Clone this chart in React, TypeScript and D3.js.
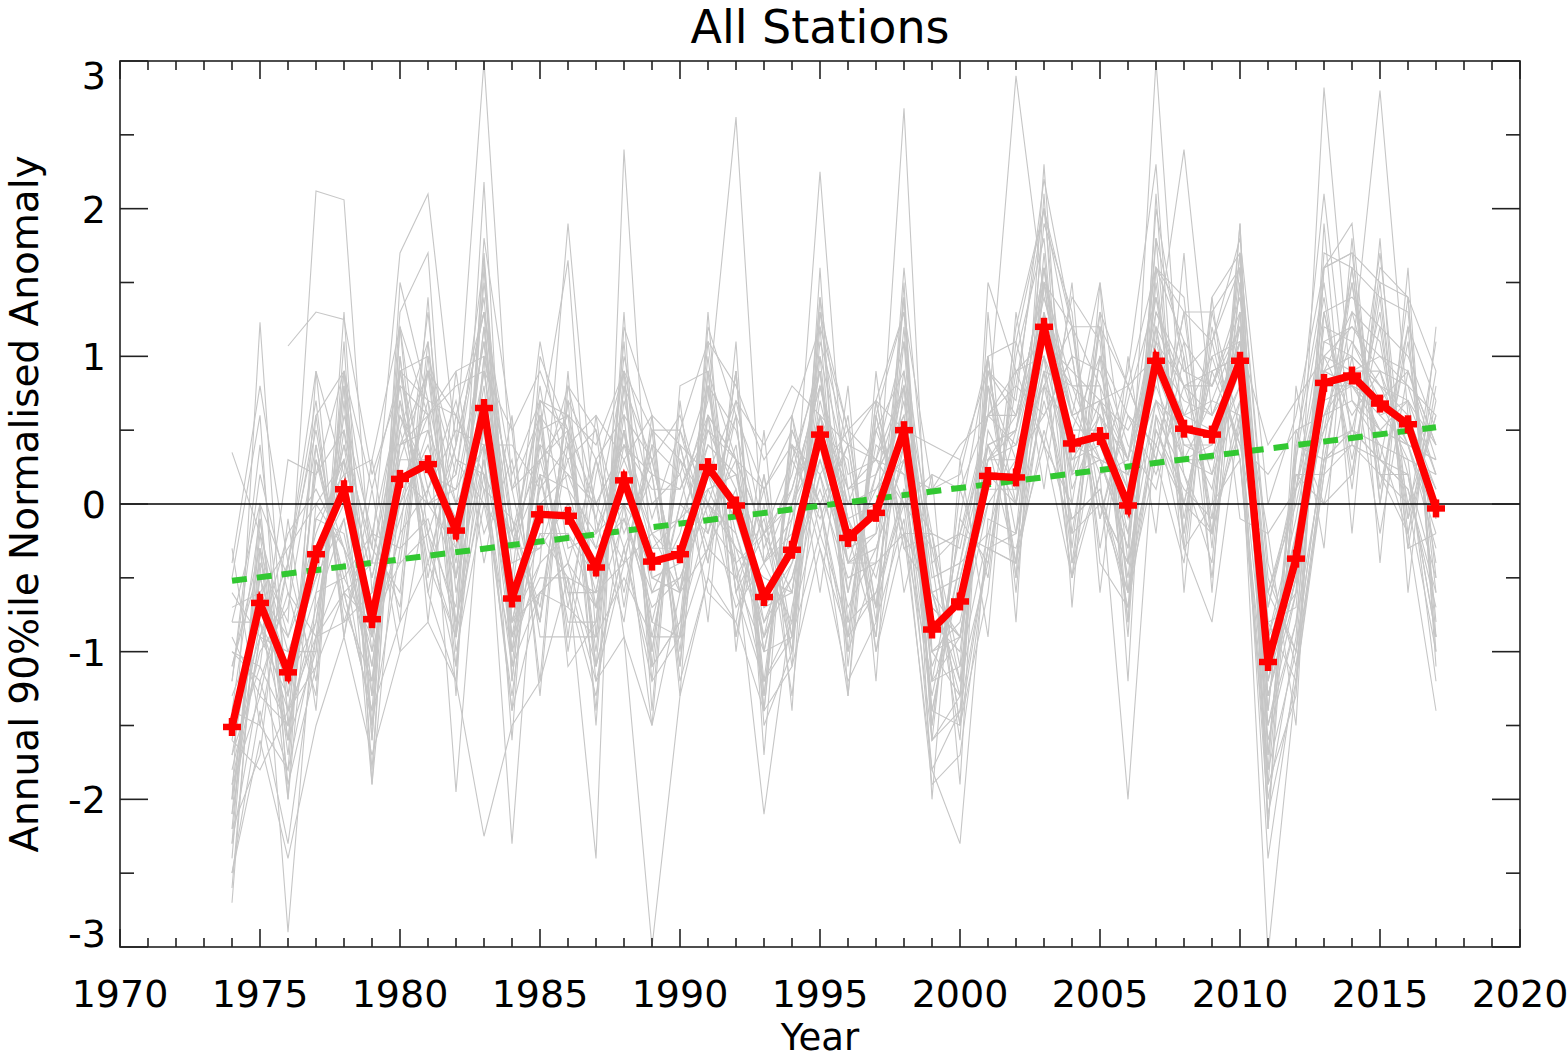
import React from "react";
import * as d3 from "d3";

const years: number[] = [
  1974, 1975, 1976, 1977, 1978, 1979, 1980, 1981, 1982, 1983, 1984, 1985, 1986, 1987, 1988, 1989,
  1990, 1991, 1992, 1993, 1994, 1995, 1996, 1997, 1998, 1999, 2000, 2001, 2002, 2003, 2004, 2005,
  2006, 2007, 2008, 2009, 2010, 2011, 2012, 2013, 2014, 2015, 2016, 2017,
];

// Mean of all stations (red line)
const allStationsMean: number[] = [
  -1.51, -0.67, -1.14, -0.34, 0.1, -0.78,
  0.17, 0.27, -0.18, 0.65, -0.64, -0.07, -0.08, -0.43, 0.16, -0.39,
  -0.34, 0.25, -0.01, -0.63, -0.31, 0.47, -0.23, -0.06, 0.5, -0.85,
  -0.66, 0.19, 0.18, 1.2, 0.41, 0.46, -0.01, 0.97, 0.51, 0.47,
  0.97, -1.07, -0.37, 0.82, 0.87, 0.68, 0.54, -0.03,
];

// Linear trend (green dashed line)
const trendYears: number[] = [1974, 2017];
const trendValues: number[] = [-0.52, 0.52];

// Individual stations (grey lines), 1974..2017
const stationSeries: (number | null)[][] = [
  [-1.0, -1.2, -0.6, -0.9, 0.8, -1.3, 0.7, -0.4, 0.4, 1.3, -1.1, 0.5, -0.7, 0.3, -0.3, 0.2, -0.9, 0.8, -0.5, -0.1, -0.9, 1.0, -0.8, 0.5, 0.0, -0.3, -1.2, 0.8, -0.4, 1.7, -0.2, 1.0, -0.6, 1.5, -0.1, 1.0, 0.4, -0.6, -1.0, 1.3, 0.3, 1.2, -0.1, 0.6],
  [-2.1, -0.2, -1.7, 0.3, -0.5, -0.2, -0.3, 0.9, -0.8, 0.1, -0.1, -0.7, 0.5, -1.0, 0.8, -1.0, 0.3, -0.3, 0.6, -1.2, 0.3, -0.1, 0.4, -0.7, 1.1, -1.5, -0.1, -0.4, 0.8, 0.6, 1.0, -0.1, 0.6, 0.4, 1.1, -0.1, 1.6, -1.7, 0.2, 0.2, 1.5, 0.1, 1.1, -0.6],
  [-0.9, -1.3, -0.4, 0.5, -0.6, -1.4, 1.0, -0.5, 0.6, 0.2, -1.4, 0.7, 0.5, -1.1, 0.9, -1.2, 0.4, -0.4, 0.9, -1.3, 0.5, 0.0, -1.0, 0.7, -0.3, -0.2, -1.5, 1.0, -0.5, 0.8, 1.2, -0.3, 0.8, 0.3, 1.3, -0.2, 1.7, -0.4, -1.1, 0.2, 1.6, 0.0, 1.2, -0.8],
  [-2.4, -0.1, -1.6, -1.0, 0.9, -0.3, -0.6, 1.1, -0.9, 1.0, 0.1, -0.8, 0.7, 0.3, -0.6, 0.4, -1.0, 0.9, -0.6, 0.1, -1.0, 1.3, 0.5, -0.7, 1.2, -1.6, 0.1, -0.5, 1.0, 1.8, -0.3, 1.2, -0.8, 1.6, -0.2, 1.1, 0.3, -1.9, 0.3, 1.4, 0.2, 1.4, -0.2, 0.7],
  [-1.8, -1.0, -0.7, 0.4, -0.7, -1.2, 0.5, -0.2, -0.7, 1.5, -0.2, 0.6, -0.9, -0.9, 0.7, -0.1, 0.5, -0.2, 0.7, -0.2, 0.3, 0.9, -0.9, 0.6, -0.2, -0.6, -1.3, 0.8, 0.3, 0.6, 1.0, -0.1, 0.7, 1.4, 0.2, -0.4, 1.5, -1.4, 0.4, 0.3, 1.3, 1.1, 0.0, 0.6],
  [-2.6, -0.4, -2.9, -0.6, 0.3, -1.9, 0.1, 0.6, -1.95, 0.4, -2.3, 0.2, -0.6, -1.3, 0.0, -1.5, -0.6, 0.2, -0.4, -2.1, -0.7, 0.2, -0.7, -0.3, 0.3, -1.8, -2.3, -0.1, -0.2, 0.9, -0.5, 0.2, -2.0, 0.6, -0.3, -0.8, 0.6, -3.05, -1.2, 0.3, 0.5, 0.4, -0.2, -1.4],
  [-1.2, 0.4, -1.3, 0.2, 0.5, -0.4, -0.4, 0.9, 0.2, 1.65, -1.0, -0.4, 1.9, -0.2, 0.5, -0.8, 0.0, 0.7, 2.62, -0.4, 0.1, 0.8, 0.0, 0.5, 0.9, -0.5, -0.4, 0.6, 2.9, 1.4, 0.6, 0.7, 0.3, 1.2, 0.8, 0.8, 1.2, -0.9, -0.1, 1.0, 1.2, 0.9, 0.8, 0.2],
  [-1.9, -0.8, -1.4, -0.1, -0.2, -1.1, 0.2, 0.0, -0.3, 0.8, -0.9, -0.2, -0.5, -2.4, 2.4, -0.5, -0.6, 0.1, -0.3, -0.9, -0.5, 0.3, -0.4, -0.2, 2.68, -1.0, -0.9, 0.2, 0.0, 1.0, 0.2, 0.3, -0.3, 3.0, 0.3, 0.3, 0.8, -1.3, -0.6, 2.82, 0.7, 0.5, 0.4, -0.2],
  [-1.6, -0.5, -1.1, -0.5, 0.4, -0.9, 0.3, 0.3, -0.1, 0.9, -0.5, 1.1, 0.1, -0.6, 0.4, -0.3, -0.3, 0.4, 0.2, -0.8, -0.3, 2.25, -0.2, -0.1, 0.7, -0.9, -0.6, 0.3, 0.4, 1.3, 0.6, 1.5, 0.1, 1.1, 2.4, 0.6, 1.1, -1.0, -0.4, 0.9, 1.0, 2.8, 0.6, 0.1],
  [null, null, 1.07, 1.3, 1.25, 0.2, 0.8, 0.6, 0.9, 1.0, 0.1, 0.6, 0.3, 0.5, -0.2, 0.3, 0.6, -0.1, 0.3, 0.1, 0.5, 0.0, 0.4, 0.3, 0.2, 0.1, 0.4, 0.6, 0.9, 1.1, 0.8, 0.6, 0.3, 1.0, 0.7, 0.6, 0.9, -0.2, 0.1, 0.9, 0.8, 0.7, 0.9, 0.3],
  [-1.1, -0.4, -0.8, 2.12, 2.06, -0.6, 0.5, 1.1, -0.5, 1.2, -0.8, 0.1, 0.4, -0.7, 0.5, -0.6, -0.2, 0.6, 0.3, -1.0, -0.1, 0.9, -0.4, 0.2, 0.8, -1.2, -0.9, 0.4, 0.5, 1.6, 0.6, 0.3, -0.3, 1.3, 0.8, 0.2, 1.2, -1.5, -0.6, 1.1, 1.0, 0.8, 0.4, -0.3],
  [0.35, -0.2, -0.9, -0.4, 0.4, -0.3, 1.7, 2.1, 0.4, 3.0, 0.1, 0.3, 0.6, -0.1, 0.9, 0.0, 0.2, 0.8, 0.5, -0.3, 0.2, 1.0, 0.2, 0.3, 1.1, -0.4, -0.2, 0.6, 0.8, 2.0, 1.0, 0.9, 0.3, 1.6, 1.1, 0.8, 1.4, -0.6, 0.1, 1.3, 1.4, 1.2, 1.0, 0.5],
  [-2.0, 1.23, -1.5, -0.7, -0.1, -1.3, 1.3, 1.7, -0.9, 2.18, -1.2, 0.5, 1.65, -0.9, 1.1, -1.1, -0.8, 1.0, -0.6, -1.2, -0.9, 1.4, -1.0, -0.4, 1.4, -1.6, -1.3, 0.9, 0.7, 2.2, 1.2, 0.8, -0.8, 2.0, 0.9, 1.1, 1.6, -2.0, -0.9, 1.7, 1.6, 1.4, 1.3, -0.5],
  [-2.3, -1.2, -1.8, -0.9, -0.4, -1.5, -0.3, -0.1, -0.8, 0.3, -1.4, -0.6, -0.4, -1.1, -0.3, -1.1, -0.8, -0.1, -0.4, -1.2, -0.8, 0.0, -0.9, -0.6, 0.0, -1.6, -1.4, -0.3, -0.2, 0.7, -0.1, 0.1, -0.6, 0.5, 0.1, -0.1, 0.5, -1.8, -1.0, 0.4, 0.5, 0.3, 0.1, -0.6],
  [-0.6, -0.9, -0.2, 0.1, -0.3, -0.7, 0.9, 0.1, 0.5, 0.4, 0.4, 0.1, 0.8, 0.0, -0.4, 0.5, 0.3, 0.0, 0.6, 0.1, 0.4, 0.2, 0.5, 0.3, 0.0, 0.2, 0.1, 0.6, 0.4, 0.8, 0.5, 1.0, 0.6, 0.2, 0.8, 0.9, 0.4, 0.2, 0.5, 0.6, 0.9, 0.5, 0.7, 0.4],
  [-1.5, -0.9, -1.3, -0.4, 0.0, -0.9, 0.0, 0.4, -0.3, 0.6, -0.7, -0.2, -0.2, -0.5, 0.1, -0.5, -0.4, 0.2, -0.1, -0.7, -0.4, 0.4, -0.3, -0.2, 0.4, -1.0, -0.8, 0.1, 0.1, 1.1, 0.3, 0.4, -0.1, 0.9, 0.4, 0.4, 0.9, -1.2, -0.5, 0.7, 0.8, 0.6, 0.4, -0.1],
  [-2.5, -1.6, -2.4, -1.5, -0.9, -1.7, -1.0, -0.8, -1.2, -2.25, -1.5, -1.2, -0.5, -1.2, -0.9, -3.0, -1.3, -0.5, -0.8, -1.4, -1.1, -0.3, -1.2, -0.8, -0.1, -1.9, -1.7, -0.3, -0.4, 0.5, -0.2, 0.0, -0.6, 0.6, 0.2, -0.2, 0.7, -2.4, -1.1, 0.3, 0.5, 0.3, 0.2, -0.9],
  [-0.8, 0.0, -0.5, 0.6, 0.9, 0.1, 0.9, 0.7, 0.6, 1.3, 0.2, 0.7, 0.6, 0.4, 0.9, 0.5, 0.5, 1.1, 0.8, 0.3, 0.6, 1.2, 0.5, 0.7, 1.3, 0.1, 0.2, 1.0, 1.1, 2.0, 1.2, 1.2, 0.8, 1.6, 1.3, 1.1, 1.8, 0.0, 0.6, 1.6, 1.7, 1.5, 1.4, 0.9],
  [-1.4, -1.5, -0.4, -1.2, 0.7, -1.6, 1.0, -0.6, 0.3, 0.2, -0.2, -0.8, 0.4, -0.1, -0.8, 0.6, -1.1, 0.6, -0.9, 0.0, -1.3, 0.5, 0.3, -1.0, 0.1, -0.2, -1.1, 1.0, -0.6, 1.3, -0.4, 1.0, 0.4, 0.1, 1.0, -0.5, 1.3, -0.7, 0.2, 0.0, 1.0, -0.2, 0.9, 0.4],
  [-2.2, -0.3, -2.0, 0.0, -0.3, -1.0, -0.2, 1.3, -0.6, 0.5, -1.0, 0.4, -0.6, -0.6, 0.5, -0.9, 0.0, -0.2, 0.4, -1.0, 0.0, 0.9, -0.6, 0.2, 0.6, -1.4, -0.5, 0.3, 0.6, 1.5, 0.1, 0.6, -0.5, 1.2, 0.0, 0.9, 1.0, -1.6, -0.8, 1.0, 0.6, 0.9, 0.2, -0.5],
  [-1.7, -0.6, -0.9, -0.2, 0.3, -0.5, 0.4, 0.5, 0.0, 0.4, -0.3, 0.2, 0.1, -0.2, 0.3, -0.2, -0.1, 0.4, 0.2, -0.4, -0.1, 0.5, 0.0, 0.1, 0.5, -0.6, -0.5, 0.3, 0.3, 1.0, 0.5, 0.5, 0.1, 0.9, 0.6, 0.5, 0.9, -0.9, -0.3, 0.8, 0.8, 0.7, 0.5, 0.1],
  [-1.0, -1.1, -1.5, -0.8, 0.6, -0.2, 0.7, 0.0, 0.1, 1.1, -0.9, 0.3, -0.4, -0.7, 0.6, 0.3, -0.6, 0.6, -0.2, -0.9, 0.0, 0.4, -0.6, 0.4, 0.2, -1.3, -0.4, -0.2, 0.5, 1.4, 0.7, 0.2, 0.3, 1.2, 0.3, 0.7, 0.6, -1.0, -0.2, 0.9, 1.3, 0.6, 0.7, -0.4],
  [-2.1, -0.9, -1.0, -0.5, -0.1, -1.1, 0.4, 0.6, -0.4, 1.2, -0.4, -0.3, 0.0, -0.3, -0.1, -0.7, -0.5, 0.0, -0.3, -0.5, -0.6, 0.6, -0.4, -0.4, 0.9, -0.7, -0.9, 0.4, 0.0, 1.5, 0.2, 0.7, -0.2, 1.1, 0.4, 0.3, 1.1, -1.3, -0.5, 0.6, 1.1, 0.7, 0.3, 0.2],
  [null, null, null, null, null, -0.4, 0.6, 0.2, 0.1, 0.5, -0.3, 0.4, 0.2, 0.0, 0.4, 0.2, 0.1, 0.5, 0.3, -0.2, 0.0, 0.6, 0.1, 0.2, 0.6, -0.3, -0.2, 0.4, 0.5, 1.2, 0.6, 0.7, 0.2, 1.1, 0.8, 0.6, 1.1, -0.6, 0.0, 0.9, 1.0, 0.8, 0.7, 0.2],
  [-1.3, -0.8, -1.2, -0.6, -0.5, -0.9, -0.2, 0.1, -0.5, 0.3, -0.8, -0.4, -0.2, -0.7, -0.1, -0.6, -0.5, 0.0, -0.2, -0.8, -0.5, 0.2, -0.4, -0.3, 0.3, -0.7, -0.9, 0.0, 0.0, 0.9, 0.2, 0.3, -0.2, 0.7, 0.3, 0.2, 0.7, -1.3, -0.5, 0.6, 0.7, 0.4, 0.3, -1.2],
  [-1.9, -1.3, -1.5, 0.6, -0.8, -0.6, 0.0, 0.7, -0.2, 0.4, -0.6, 0.8, -0.3, -0.2, 0.0, -0.8, -0.9, 1.1, -0.4, -0.2, -0.6, 0.8, -0.1, -0.5, 0.4, -0.8, -1.0, 0.5, 0.1, 0.9, 0.8, 0.3, 0.2, 0.7, 0.5, 0.1, 1.3, -1.2, -0.2, 0.5, 0.9, 0.9, 0.4, 0.3],
  [-1.6, -1.8, -1.4, -1.1, -0.6, -0.8, -0.4, -0.2, -1.1, 0.6, -0.9, -0.5, -0.5, -0.6, -0.4, -0.2, -0.6, -0.3, 0.1, -0.9, -0.4, 0.1, -0.5, -0.4, -0.2, -1.2, -1.1, -0.2, -0.3, 0.4, 0.0, 0.0, -0.4, 0.4, 0.0, 0.0, 0.3, -1.5, -0.8, 0.3, 0.4, 0.3, 0.1, -0.7],
  [-0.4, 0.8, -0.4, 0.9, 0.2, 0.3, 1.2, 0.6, 0.8, 0.9, 0.5, 0.9, 0.4, 0.6, 0.3, 0.6, 0.4, 0.2, 0.7, 0.4, 0.8, 0.6, 0.4, 0.7, 0.5, 0.4, 0.3, 0.9, 0.6, 1.1, 0.9, 0.7, 0.8, 1.0, 0.6, 1.0, 1.1, 0.4, 0.7, 1.0, 0.9, 1.0, 0.8, 0.6],
  [-2.0, -0.5, -1.2, -0.8, 0.5, -1.0, 0.6, 0.0, 0.2, 1.4, -0.8, 0.0, 0.2, -0.3, 0.5, -0.2, -0.4, 0.5, 0.1, -0.7, -0.6, 0.7, -0.1, 0.0, 0.8, -0.6, -0.9, 0.3, 0.5, 1.6, 0.3, 0.6, 0.1, 1.4, 0.6, 0.7, 1.2, -1.2, -0.3, 1.2, 1.1, 0.8, 0.6, -0.1],
  [-1.1, -0.3, -1.6, -0.1, 0.2, -0.7, -0.1, 0.5, -0.5, 0.9, -0.3, -0.3, 0.3, -0.5, 0.0, -0.3, -0.1, 0.1, 0.2, -0.4, -0.2, 0.3, -0.3, 0.1, 0.3, -1.1, -0.6, 0.0, 0.3, 1.2, 0.4, 0.3, 0.2, 0.8, 0.3, 0.4, 0.8, -0.9, -0.6, 0.9, 0.8, 0.5, 0.4, 0.3],
  [-2.5, -1.4, -2.3, -0.9, -0.6, -1.4, -0.8, -0.4, -0.9, 0.2, -1.1, -0.6, -0.7, -0.9, -0.5, -0.9, -0.9, -0.3, -0.5, -1.0, -0.9, -0.2, -0.8, -0.6, 0.1, -1.4, -1.5, -0.3, -0.4, 0.8, -0.1, 0.1, -0.7, 0.5, 0.0, -0.2, 0.6, -2.1, -1.2, 0.2, 0.4, 0.2, 0.0, -1.0],
  [-0.7, -0.6, -0.3, 0.0, 0.3, -0.5, 0.3, 0.9, 0.0, 1.1, -0.2, 0.3, 0.5, 0.0, 0.4, 0.1, 0.1, 0.6, 0.3, -0.2, 0.1, 0.8, 0.1, 0.3, 0.8, -0.2, -0.3, 0.6, 0.6, 1.5, 0.8, 0.8, 0.3, 1.3, 0.9, 0.8, 1.3, -0.7, 0.1, 1.1, 1.2, 1.0, 0.9, 0.4],
  [-0.5, 0.6, -2.0, 0.9, -0.9, 0.3, -0.8, 1.4, -1.3, 1.8, 0.5, -1.2, 0.9, -1.5, 1.2, 0.6, -1.3, 1.3, -1.0, 0.5, -1.4, 1.6, -1.3, 0.9, -0.6, 0.2, -1.9, 1.3, -0.8, 2.1, -0.7, 1.5, -1.2, 2.1, -0.6, 1.4, -0.1, -0.2, -1.5, 1.9, -0.2, 1.8, -0.6, 1.2],
  [-2.2, -1.7, -0.1, -1.4, 1.1, -1.9, 1.2, -0.8, 0.9, -0.4, 0.6, -1.3, 0.8, 0.5, -0.9, -1.5, 0.7, -0.8, 1.1, -1.7, 0.6, -0.6, 0.8, -1.2, 1.5, -2.0, 0.3, -0.9, 1.3, 0.1, 1.5, -0.6, 1.0, -0.2, 1.7, -0.6, 1.9, -2.2, 0.8, -0.3, 1.8, -0.4, 1.6, -1.1],
  [-1.2, 0.2, -0.6, -1.3, 1.3, -1.6, 1.5, 0.7, -1.1, 1.0, -1.6, 1.0, 0.5, -1.4, 1.3, -1.4, 0.8, 0.9, -0.9, 0.2, -1.1, 1.3, -0.2, -0.9, 1.6, -0.4, -1.6, 1.5, 0.9, 0.4, 1.4, 1.1, -0.9, 1.8, -0.3, 1.3, 1.6, -0.8, -1.2, 1.6, 1.9, 0.0, 1.4, -1.0],
  [-2.0, -0.9, -0.4, 0.7, -0.9, 0.1, -1.0, 0.1, 0.7, -0.2, 0.3, -0.9, -0.9, 0.6, -0.7, 0.5, -1.2, -0.5, 0.9, -1.4, 0.6, -0.2, 0.6, -1.0, -0.2, -0.2, -1.5, -0.6, 1.1, 0.4, -0.5, 1.3, 0.8, 0.3, -0.4, 1.2, 0.3, -1.8, 0.5, 0.0, 0.2, 1.5, -0.3, 0.8],
  [-0.3, -1.5, -1.8, 0.4, -0.6, -0.4, 0.8, -0.6, -1.2, 1.6, -1.2, 0.6, -1.0, 0.2, 0.9, -1.0, 0.4, -0.4, 0.9, -1.5, -1.0, 1.2, -1.1, 0.6, 1.3, -1.5, -0.1, 1.0, -0.5, 2.3, -0.4, 0.2, 0.9, 2.3, -0.3, 0.0, 1.7, -2.2, 0.4, 1.5, 0.1, 1.6, 1.4, -0.9],
  [-2.3, 0.0, -1.9, -1.1, 0.8, -1.8, 0.9, 1.0, -1.0, 0.0, -0.3, 0.7, -1.1, -0.8, 1.0, 0.2, -1.1, 1.2, 0.6, -1.3, 0.4, -0.3, -0.9, 0.7, -0.2, -1.8, -1.4, 0.9, 0.0, 1.9, 1.3, -0.4, -0.7, 1.6, 1.4, -0.3, 1.9, -1.9, -1.3, 1.6, 1.7, 0.2, -0.2, 0.9],
  [-1.7, -1.1, 0.3, 0.2, 0.9, -1.5, 1.2, -0.2, 0.4, 1.3, -0.1, -0.8, 0.7, -1.2, -0.4, 0.4, 0.2, -0.6, -0.8, 0.2, -0.9, 1.1, 0.4, -0.8, 1.4, -1.2, -0.2, -0.3, 1.2, 2.0, 0.2, 1.3, -0.6, 0.3, 1.3, 1.3, 0.5, -1.4, 0.3, 2.1, 0.4, 1.7, -0.1, 1.1],
  [-1.4, -0.1, -1.4, -0.9, -0.8, -0.2, -0.7, 1.0, 0.3, 0.0, -1.0, 0.5, 0.6, -1.1, -0.3, -1.2, -0.9, 0.9, 0.3, -1.4, 0.4, 0.0, -1.3, 0.6, -0.3, -0.6, -1.2, -0.4, 0.9, 1.0, -0.5, 0.7, 0.5, 0.9, -0.2, 1.4, 1.7, -0.5, -1.0, 0.4, 1.6, 0.2, 0.2, -0.9],
  [-2.7, -0.3, -1.0, -1.0, 0.9, -0.9, 0.9, -0.3, -0.9, 1.7, -0.8, -0.6, -0.4, 0.3, 0.6, -1.1, 0.5, 0.0, -0.7, -0.4, -0.8, 1.4, 0.1, -0.9, 0.8, -1.4, -0.4, 0.4, -0.4, 1.5, 1.2, 0.0, -0.4, 1.8, 1.0, -0.2, 1.5, -1.7, 0.1, 0.5, 1.5, 0.3, 1.2, 0.7],
  [-0.8, -0.8, -1.6, 0.3, -0.3, -1.2, 0.4, 0.9, 0.6, 0.1, -1.3, 0.2, -0.8, -0.8, 0.8, 0.3, -0.6, 0.8, -0.6, -0.2, -1.0, 0.6, -0.1, -0.7, 0.1, -1.0, -1.3, 0.8, -0.2, 1.6, 0.0, 1.2, -0.4, 0.7, 0.0, 0.9, 1.0, -0.8, -0.7, 1.3, 0.5, 1.3, -0.3, -0.2],
];

const xMajorTicks: number[] = [1970, 1975, 1980, 1985, 1990, 1995, 2000, 2005, 2010, 2015, 2020];
const yMajorTicks: number[] = [-3, -2, -1, 0, 1, 2, 3];

const titleText = "All Stations";
const xAxisTitle = "Year";
const yAxisTitle = "Annual 90%ile Normalised Anomaly";

const W = 1568;
const H = 1059;
const plot = { left: 120, right: 1520, top: 61, bottom: 947 };
const FONT = "'DejaVu Sans', Verdana, sans-serif";

export default function App() {
  const x = d3.scaleLinear().domain([1970, 2020]).range([plot.left, plot.right]);
  const y = d3.scaleLinear().domain([-3, 3]).range([plot.bottom, plot.top]);

  const line = d3
    .line<number | null>()
    .defined((v) => v !== null && v !== undefined)
    .x((_, i) => x(years[i]))
    .y((v) => y(v as number));

  const trendLine = d3
    .line<number>()
    .x((_, i) => x(trendYears[i]))
    .y((v) => y(v));

  const xMinor = d3.range(1970, 2021, 1).filter((v) => !xMajorTicks.includes(v));
  const yMinor = d3.range(-2.5, 3, 1);

  const labelFs = 38;
  const clampY = (v: number) =>
    Math.max(plot.top + labelFs * 0.37, Math.min(plot.bottom - labelFs * 0.37, v));

  return (
    <svg
      width={W}
      height={H}
      viewBox={`0 0 ${W} ${H}`}
      style={{ position: "absolute", left: 0, top: 0, background: "#fff" }}
      fontFamily={FONT}
    >
      <defs>
        <clipPath id="plotClip">
          <rect x={plot.left} y={plot.top} width={plot.right - plot.left} height={plot.bottom - plot.top} />
        </clipPath>
      </defs>
      <rect x={0} y={0} width={W} height={H} fill="#fff" />

      <g clipPath="url(#plotClip)">
        {stationSeries.map((s, k) => (
          <path key={k} d={line(s) || ""} fill="none" stroke="#c6c6c6" strokeWidth={1.1} strokeLinejoin="miter" />
        ))}
        <line x1={plot.left} x2={plot.right} y1={y(0)} y2={y(0)} stroke="#000" strokeWidth={1.4} />
        <path
          d={trendLine(trendValues) || ""}
          fill="none"
          stroke="#32c832"
          strokeWidth={6}
          strokeDasharray="15 10"
        />
        <path d={line(allStationsMean) || ""} fill="none" stroke="#ff0000" strokeWidth={7.5} strokeLinejoin="miter" />
        {allStationsMean.map((v, i) => (
          <g key={i} transform={`translate(${x(years[i])},${y(v)})`} stroke="#ff0000" strokeWidth={6.5}>
            <line x1={-9} x2={9} y1={0} y2={0} />
            <line x1={0} x2={0} y1={-9} y2={9} />
          </g>
        ))}
      </g>

      {/* frame */}
      <rect
        x={plot.left}
        y={plot.top}
        width={plot.right - plot.left}
        height={plot.bottom - plot.top}
        fill="none"
        stroke="#222"
        strokeWidth={1.6}
      />

      {/* ticks */}
      <g stroke="#222" strokeWidth={1.6}>
        {xMajorTicks.map((t) => (
          <g key={`xm${t}`}>
            <line x1={x(t)} x2={x(t)} y1={plot.bottom} y2={plot.bottom - 18} />
            <line x1={x(t)} x2={x(t)} y1={plot.top} y2={plot.top + 18} />
          </g>
        ))}
        {xMinor.map((t) => (
          <g key={`xn${t}`}>
            <line x1={x(t)} x2={x(t)} y1={plot.bottom} y2={plot.bottom - 9} />
            <line x1={x(t)} x2={x(t)} y1={plot.top} y2={plot.top + 9} />
          </g>
        ))}
        {yMajorTicks.map((t) => (
          <g key={`ym${t}`}>
            <line x1={plot.left} x2={plot.left + 28} y1={y(t)} y2={y(t)} />
            <line x1={plot.right} x2={plot.right - 28} y1={y(t)} y2={y(t)} />
          </g>
        ))}
        {yMinor.map((t) => (
          <g key={`yn${t}`}>
            <line x1={plot.left} x2={plot.left + 14} y1={y(t)} y2={y(t)} />
            <line x1={plot.right} x2={plot.right - 14} y1={y(t)} y2={y(t)} />
          </g>
        ))}
      </g>

      {/* tick labels */}
      <g fontSize={labelFs} fill="#000">
        {xMajorTicks.map((t) => (
          <text key={`xl${t}`} x={x(t)} y={1007} textAnchor="middle">
            {t}
          </text>
        ))}
        {yMajorTicks.map((t) => (
          <text key={`yl${t}`} x={106} y={clampY(y(t)) + labelFs * 0.365} textAnchor="end">
            {t}
          </text>
        ))}
      </g>

      {/* titles */}
      <text x={(plot.left + plot.right) / 2} y={43} textAnchor="middle" fontSize={46} fill="#000">
        {titleText}
      </text>
      <text x={(plot.left + plot.right) / 2} y={1050} textAnchor="middle" fontSize={37} fill="#000">
        {xAxisTitle}
      </text>
      <text
        transform={`translate(38,${(plot.top + plot.bottom) / 2}) rotate(-90)`}
        textAnchor="middle"
        fontSize={39}
        fill="#000"
      >
        {yAxisTitle}
      </text>
    </svg>
  );
}
